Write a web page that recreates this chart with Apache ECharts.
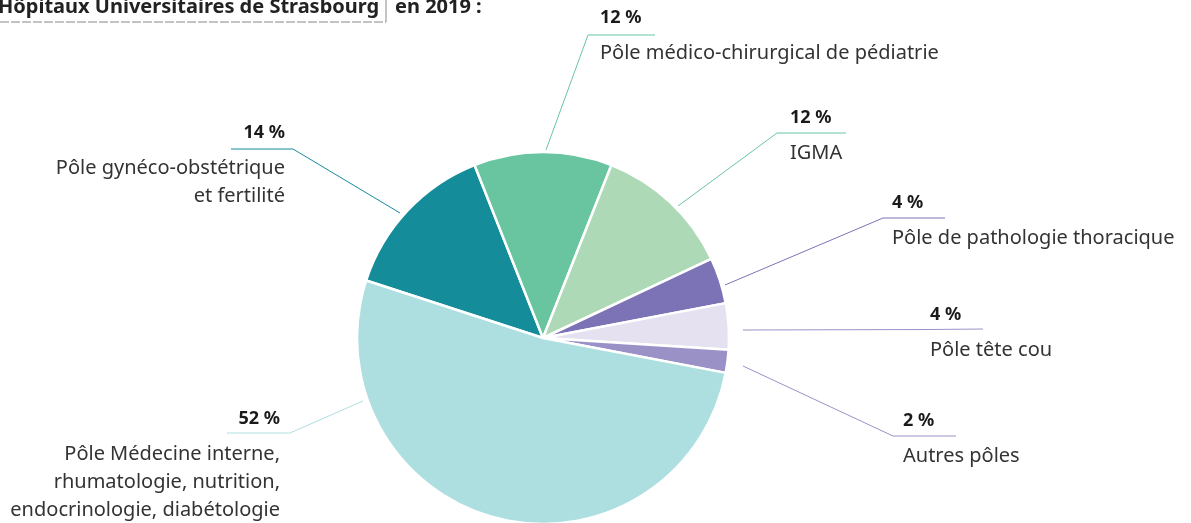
<!DOCTYPE html>
<html>
<head>
<meta charset="utf-8">
<script src="https://cdn.jsdelivr.net/npm/echarts@6/dist/echarts.min.js"></script>
<style>
  html, body { margin: 0; padding: 0; background: #fff; }
  #chart { width: 1191px; height: 523px; }
</style>
</head>
<body>
<div id="chart"></div>
<script>
// slices, clockwise from the upper left
let categories = [
    'Pôle gynéco-obstétrique\net fertilité',
    'Pôle médico-chirurgical de pédiatrie',
    'IGMA',
    'Pôle de pathologie thoracique',
    'Pôle tête cou',
    'Autres pôles',
    'Pôle Médecine interne,\nrhumatologie, nutrition,\nendocrinologie, diabétologie'
];
let shares = [14, 12, 12, 4, 4, 2, 52];
let sliceColors = ['#158c9a', '#69c5a0', '#add9b6', '#7b73b6', '#e5e1f0', '#9a92c7', '#aedfe0'];
let lineColors = ['#158c9a', '#69c5a0', '#69c5a0', '#7b73b6', '#9a92c7', '#9a92c7', '#aedfe0'];

// where each label sits: line start, elbow, end, text x, centre of the % line
let labelGeom = [
    { pts: [[400, 213], [293, 149], [231, 149]], x: 285, align: 'right', py: 133 },
    { pts: [[546, 150], [588, 35], [655, 35]], x: 600, align: 'left', py: 18 },
    { pts: [[678, 206], [777, 133], [846, 133]], x: 790, align: 'left', py: 118 },
    { pts: [[725, 285], [883, 218], [945, 218]], x: 892, align: 'left', py: 203 },
    { pts: [[743, 330], [930, 329.5], [983, 329]], x: 930, align: 'left', py: 315 },
    { pts: [[743, 366], [893, 436], [956, 436]], x: 903, align: 'left', py: 421 },
    { pts: [[363, 401], [290, 433], [227, 433]], x: 280, align: 'right', py: 419 }
];

let font = '"Noto Sans", sans-serif';

let pieData = [];
for (let i = 0; i < shares.length; i++) {
    pieData.push({
        name: categories[i],
        value: shares[i],
        itemStyle: { color: sliceColors[i] },
        labelLine: { lineStyle: { color: lineColors[i], width: 1 } }
    });
}

let option = {
    animation: false,
    graphic: [
        {
            type: 'text', left: -2, top: -3,
            style: { text: 'Hôpitaux Universitaires de Strasbourg', font: 'bold 20px ' + font, fill: '#222' }
        },
        {
            type: 'text', left: 395, top: -3,
            style: { text: 'en 2019 :', font: 'bold 20px ' + font, fill: '#222' }
        },
        {
            type: 'line', shape: { x1: 386, y1: 0, x2: 386, y2: 22 },
            style: { stroke: '#888', lineWidth: 1 }
        },
        {
            type: 'line', shape: { x1: 0, y1: 22, x2: 386, y2: 22 },
            style: { stroke: '#888', lineWidth: 1, lineDash: [9, 2] }
        }
    ],
    series: [
        {
            type: 'pie',
            center: [543, 338],
            radius: 186,
            startAngle: 162,
            clockwise: true,
            avoidLabelOverlap: false,
            emphasis: { disabled: true },
            itemStyle: { borderColor: '#fff', borderWidth: 2.5 },
            label: {
                show: true,
                position: 'outside',
                formatter: function (p) {
                    let lines = p.name.split('\n').map(function (s) { return '{n|' + s + '}'; });
                    return '{p|' + p.value + ' %}\n' + lines.join('\n');
                },
                rich: {
                    p: { fontFamily: font, fontWeight: 'bold', fontSize: 18, color: '#1a1a1a', lineHeight: 42 },
                    n: { fontFamily: font, fontSize: 20, color: '#333', lineHeight: 28 }
                }
            },
            labelLine: { show: true, length: 10, length2: 10 },
            labelLayout: function (params) {
                let g = labelGeom[params.dataIndex];
                return {
                    x: g.x,
                    y: g.py - 21,
                    align: g.align,
                    verticalAlign: 'top',
                    labelLinePoints: g.pts
                };
            },
            data: pieData
        }
    ]
};

let chart = echarts.init(document.getElementById('chart'));
chart.setOption(option);
</script>
</body>
</html>
